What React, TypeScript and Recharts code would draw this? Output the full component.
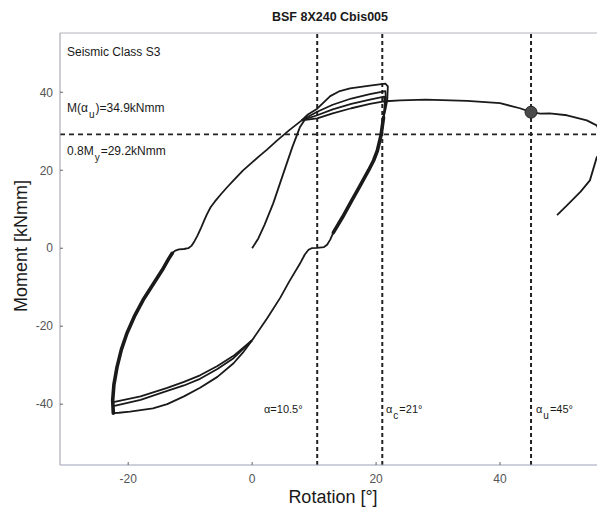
import React from 'react';
import { LineChart, Line, XAxis, YAxis, ReferenceLine, ReferenceDot } from 'recharts';

type Pt = { x: number; y: number };

const xTicks = [-20, 0, 20, 40];
const yTicks = [-40, -20, 0, 20, 40];

// rotation [deg] / moment [kNmm]
const virginCurve: Pt[] = [
  { x: 0, y: 0 }, { x: 1, y: 2.5 }, { x: 2, y: 6 }, { x: 3.4, y: 11.5 }, { x: 5, y: 19 },
  { x: 6.5, y: 26 }, { x: 7.7, y: 31 }, { x: 8.6, y: 33.2 },
];

const leftThick: Pt[] = [
  { x: -22.4, y: -42.3 }, { x: -22.5, y: -39 }, { x: -22.3, y: -35 }, { x: -21.8, y: -30.5 },
  { x: -21.1, y: -26 }, { x: -20.2, y: -21.8 }, { x: -19, y: -17.5 }, { x: -17.6, y: -13.3 },
  { x: -16, y: -9.3 }, { x: -14.5, y: -5.6 }, { x: -13.5, y: -2.8 }, { x: -12.9, y: -1.3 },
];

const leftThin: Pt[] = [
  { x: -12.9, y: -1.3 }, { x: -12.4, y: -0.6 }, { x: -11.8, y: -0.3 }, { x: -11, y: -0.2 },
  { x: -10.3, y: 0 }, { x: -9.8, y: 0.6 }, { x: -9.3, y: 1.8 }, { x: -8.8, y: 3.3 },
  { x: -8.3, y: 5 }, { x: -7.8, y: 6.9 }, { x: -7.3, y: 8.7 }, { x: -6.7, y: 10.5 },
  { x: -6, y: 12 }, { x: -5, y: 13.9 }, { x: -4, y: 15.7 }, { x: -3, y: 17.4 },
  { x: -1.5, y: 19.9 }, { x: 0, y: 22 }, { x: 1.2, y: 23.7 }, { x: 2.4, y: 25.3 },
  { x: 4, y: 27.6 }, { x: 6, y: 30.3 }, { x: 8, y: 32.8 },
];

const topCycle1: Pt[] = [
  { x: 8, y: 32.8 }, { x: 9, y: 34.3 }, { x: 10.5, y: 35.8 }, { x: 12.6, y: 39 }, { x: 14, y: 40.2 },
  { x: 15.8, y: 41 }, { x: 19, y: 41.7 }, { x: 21.5, y: 42.2 }, { x: 21.9, y: 41.5 },
  { x: 21.8, y: 38 }, { x: 21.5, y: 35.5 }, { x: 21.2, y: 33.5 },
];

const topCycle2: Pt[] = [
  { x: 8, y: 32.8 }, { x: 10.5, y: 35 }, { x: 13, y: 36.8 }, { x: 16, y: 38.4 }, { x: 19, y: 39.5 },
  { x: 21.5, y: 40.3 }, { x: 21.6, y: 38 }, { x: 21.4, y: 35.5 }, { x: 21.2, y: 33.5 },
];

const topCycle3: Pt[] = [
  { x: 8, y: 32.8 }, { x: 10.5, y: 34.1 }, { x: 13, y: 35.6 }, { x: 16, y: 37 }, { x: 19, y: 38.1 },
  { x: 21.3, y: 38.9 }, { x: 21.4, y: 37 }, { x: 21.2, y: 33.5 },
];

const rightThick: Pt[] = [
  { x: 21.2, y: 33.5 }, { x: 20.8, y: 29 }, { x: 20.2, y: 25 }, { x: 19.6, y: 22.5 },
  { x: 18.8, y: 20 }, { x: 17.4, y: 16 }, { x: 16, y: 12 }, { x: 14.6, y: 8 }, { x: 13.1, y: 4 },
];

const rightThin: Pt[] = [
  { x: 13.1, y: 4 }, { x: 12.6, y: 2.2 }, { x: 12.1, y: 0.9 }, { x: 11.6, y: 0.3 },
  { x: 10.5, y: 0.1 }, { x: 9.6, y: 0 }, { x: 9.1, y: -0.4 }, { x: 8.5, y: -1.6 },
  { x: 7.7, y: -4 }, { x: 6, y: -8.5 }, { x: 4.5, y: -12.8 }, { x: 2.4, y: -18 }, { x: 0, y: -23.6 },
];

const bottomOuter: Pt[] = [
  { x: 0, y: -23.6 }, { x: -1.5, y: -26.8 }, { x: -3, y: -29.5 }, { x: -5.6, y: -33 },
  { x: -8.4, y: -35.8 }, { x: -11, y: -38 }, { x: -13.7, y: -40 }, { x: -16, y: -41.1 },
  { x: -19.7, y: -41.9 }, { x: -21.5, y: -42.2 }, { x: -22.4, y: -42.3 },
];

const bottomInner1: Pt[] = [
  { x: 0, y: -23.6 }, { x: -3, y: -28.2 }, { x: -5.6, y: -31 }, { x: -8.4, y: -33.5 },
  { x: -11, y: -35.2 }, { x: -13.7, y: -36.6 }, { x: -18, y: -38.9 }, { x: -22.4, y: -40.5 },
];

const bottomInner2: Pt[] = [
  { x: 0, y: -23.6 }, { x: -3, y: -27.6 }, { x: -5.6, y: -30.2 }, { x: -8.4, y: -32.6 },
  { x: -11, y: -34.3 }, { x: -13.7, y: -35.8 }, { x: -18, y: -38 }, { x: -22.4, y: -39.5 },
];

const finalLoading: Pt[] = [
  { x: 8, y: 32.8 }, { x: 10.5, y: 33.3 }, { x: 13, y: 34.6 }, { x: 16, y: 35.9 }, { x: 19, y: 37 },
  { x: 21.5, y: 37.7 }, { x: 23.9, y: 37.9 }, { x: 28, y: 38.1 }, { x: 34.7, y: 37.8 },
  { x: 40, y: 37.2 }, { x: 43.2, y: 35.9 }, { x: 45, y: 34.9 }, { x: 46.5, y: 34.5 },
  { x: 48, y: 34.6 }, { x: 50.8, y: 34.1 }, { x: 54, y: 32.8 }, { x: 55.6, y: 31.5 },
  { x: 56.5, y: 28.5 }, { x: 56.5, y: 25 }, { x: 55.6, y: 23.3 }, { x: 54.5, y: 17.4 },
  { x: 53, y: 14.5 }, { x: 51, y: 11.3 }, { x: 49.2, y: 8.5 },
];

const rotationMarks = [10.5, 21, 45];
const yieldMoment = 29.2;
const ultimatePoint = { x: 45, y: 34.9 };

const thinLines = [virginCurve, leftThin, topCycle1, topCycle2, topCycle3, rightThin,
  bottomOuter, bottomInner1, bottomInner2, finalLoading];
const thickLines = [leftThick, rightThick];

const font = '"Liberation Sans", Arial, sans-serif';
const ink = '#1a1a1a';

const abs = (left: number, top: number, size: number, extra: React.CSSProperties = {}): React.CSSProperties => ({
  position: 'absolute', left, top, fontSize: size, lineHeight: `${size}px`, fontFamily: font,
  color: ink, whiteSpace: 'nowrap', ...extra,
});

const sub = (t: string) => (
  <span style={{ fontSize: 10, position: 'relative', top: 6, margin: '0 1px' }}>{t}</span>
);

export default function App() {
  return (
    <div style={{ position: 'absolute', left: 0, top: 0, width: 597, height: 507, overflow: 'hidden', background: '#fff' }}>
      <LineChart width={640} height={507} margin={{ top: 3, right: 16, bottom: 12, left: 0 }}>
        <XAxis
          xAxisId="top" orientation="top" type="number" dataKey="x" domain={[-31, 60]}
          allowDataOverflow ticks={xTicks} tick={false} tickSize={-3} height={30}
          axisLine={{ stroke: '#b4b4bc' }} tickLine={{ stroke: '#777' }}
        />
        <XAxis
          type="number" dataKey="x" domain={[-31, 60]} allowDataOverflow ticks={xTicks}
          tickSize={-3} tickMargin={12} height={30}
          axisLine={{ stroke: '#9ca2b8' }} tickLine={{ stroke: '#666' }}
          tick={{ fontSize: 12, fill: '#555', fontFamily: font }}
        />
        <YAxis
          type="number" domain={[-55.6, 55.2]} allowDataOverflow ticks={yTicks}
          tickSize={-3} tickMargin={10} width={60}
          axisLine={{ stroke: '#9a9aa4' }} tickLine={{ stroke: '#666' }}
          tick={{ fontSize: 12, fill: '#555', fontFamily: font }}
        />
        <ReferenceLine y={yieldMoment} stroke="#222" strokeWidth={1.8} strokeDasharray="5 4" />
        {rotationMarks.map((r) => (
          <ReferenceLine key={r} x={r} stroke="#222" strokeWidth={2} strokeDasharray="4 3" />
        ))}
        {thinLines.map((d, i) => (
          <Line key={`t${i}`} data={d} dataKey="y" type="linear" stroke={ink} strokeWidth={1.8}
            strokeLinejoin="round" dot={false} activeDot={false} isAnimationActive={false} />
        ))}
        {thickLines.map((d, i) => (
          <Line key={`k${i}`} data={d} dataKey="y" type="linear" stroke={ink} strokeWidth={3.6}
            strokeLinejoin="round" strokeLinecap="round" dot={false} activeDot={false} isAnimationActive={false} />
        ))}
        <ReferenceDot x={ultimatePoint.x} y={ultimatePoint.y} r={6} fill="#4a4a4a" stroke="#2a2a2a" strokeWidth={1} />
      </LineChart>

      <div style={abs(230, 11, 12.5, { width: 200, textAlign: 'center', fontWeight: 'bold' })}>BSF 8X240 Cbis005</div>
      <div style={abs(21, 246, 18, { transform: 'translate(-50%, -50%) rotate(-90deg)' })}>Moment [kNmm]</div>
      <div style={abs(333, 497, 18, { transform: 'translate(-50%, -50%)' })}>Rotation [°]</div>

      <div style={abs(67, 45.5, 12)}>Seismic Class S3</div>
      <div style={abs(67, 102, 12)}>M(α{sub('u')})=34.9kNmm</div>
      <div style={abs(67, 145, 12)}>0.8M{sub('y')}=29.2kNmm</div>

      <div style={abs(264, 404, 11)}>α=10.5°</div>
      <div style={abs(386, 404, 11)}>α{sub('c')}=21°</div>
      <div style={abs(536, 404, 11)}>α{sub('u')}=45°</div>
    </div>
  );
}
